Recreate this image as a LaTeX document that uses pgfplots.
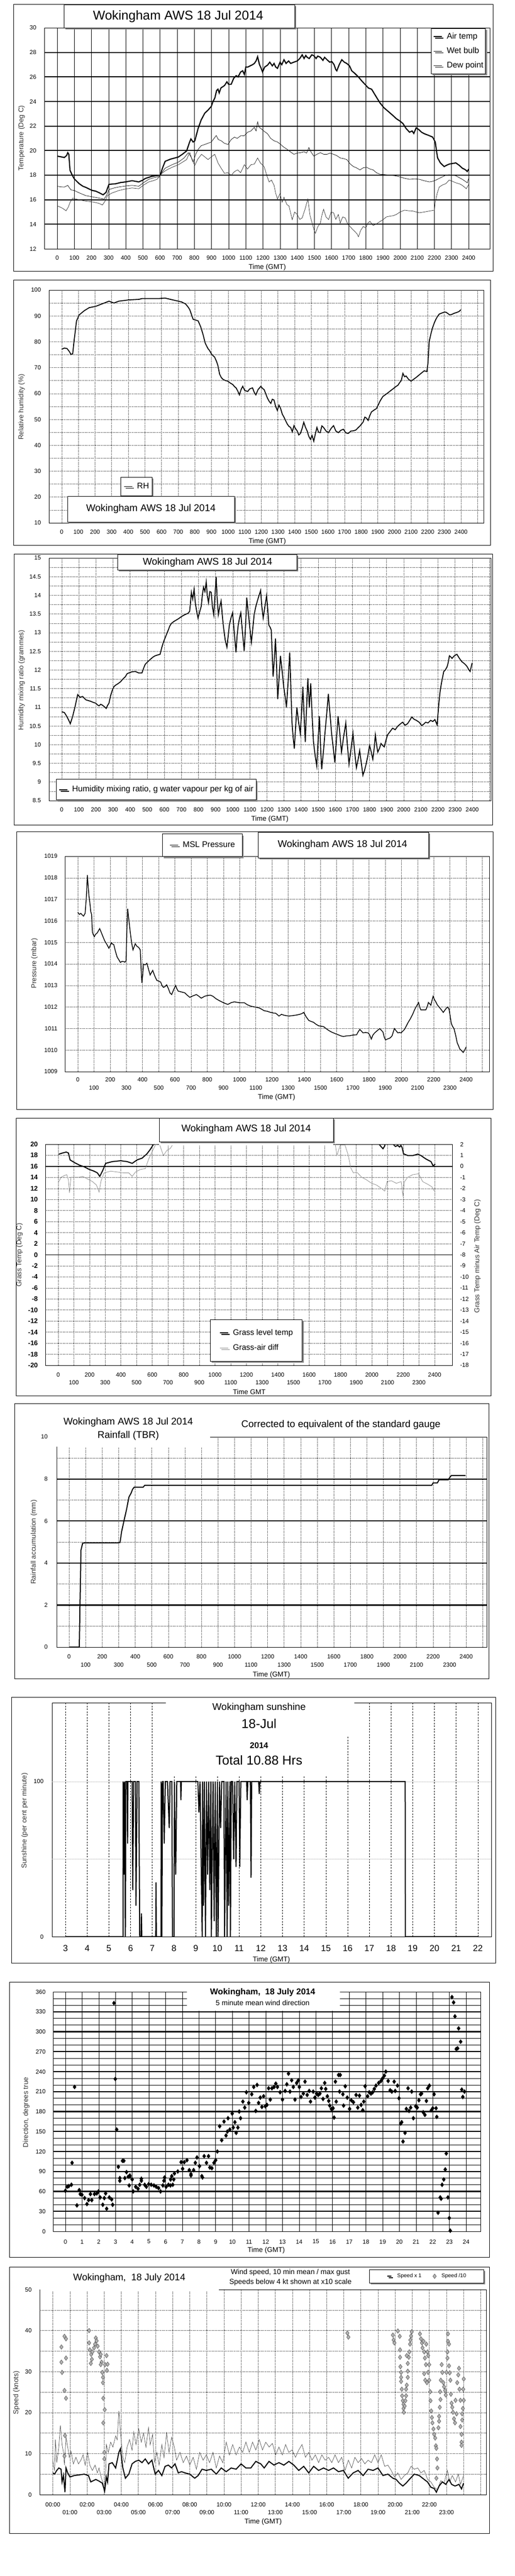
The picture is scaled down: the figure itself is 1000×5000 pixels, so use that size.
\documentclass[border=0pt]{standalone}
\usepackage{fontspec}
\setmainfont{Liberation Sans}
\usepackage{pgfplots}
\pgfplotsset{compat=1.18}
\usetikzlibrary{shadows}
\newcommand{\fz}[1]{\fontsize{#1}{#1}\selectfont}
\newcommand{\frm}[4]{\draw[black,line width=1pt] (#1,-#2) rectangle (#3,-#4);}
\newcommand{\tbox}[4]{\fill[black!50] ({#1+3},{-#2-3}) rectangle ({#3+3},{-#4-3});
  \filldraw[fill=white,draw=black,line width=0.9pt] (#1,-#2) rectangle (#3,-#4);}
\tikzset{
  dots/.style={black,line width=0.6pt,dash pattern=on 0.8pt off 1.6pt},
  lshadow/.style={drop shadow={shadow xshift=3pt,shadow yshift=-3pt,opacity=1,fill=black!45}},
  lgd/.style={draw=black, fill=white, line width=0.8pt, lshadow, font=\fz{16},
    nodes={inner sep=0pt, text height=12pt, text depth=4pt},
    /tikz/every odd column/.append style={column sep=8pt}},
  ylab/.style={rotate=90,font=\fz{13.5},text=black!80},
  xlab/.style={font=\fz{13.5}},
}
\pgfplotsset{
  base/.style={
    scale only axis, anchor=north west,
    axis line style={black,line width=0.8pt},
    major tick length=0pt, minor tick length=0pt,
    tick label style={font=\fz{11.5}},
    /pgf/number format/assume math mode=true,
    /pgf/number format/1000 sep={},
    scaled ticks=false,
    xticklabel style={anchor=center},
    yticklabel style={anchor=east},
    legend cell align=left,
    legend image code/.code={\draw[##1] (0pt,0pt) -- (16pt,0pt);},
  },
  markleg/.style={legend image code/.code={\draw[##1] plot coordinates {(4pt,0pt)};}},
  shortleg/.style={legend image code/.code={\draw[##1] (0pt,0pt) -- (8pt,0pt);}},
}
\begin{document}
\begin{tikzpicture}[x=1pt,y=1pt]
\fill[white] (0,0) rectangle (1000,-5000);

% ---------------- 1 temperature
\frm{26}{8}{957}{526}
\begin{axis}[base, at={(86pt,-54pt)}, width=865pt, height=429pt,
  xmin=-75, xmax=2523, ymin=12, ymax=30,
  xtick={0,100,...,2400}, ytick={12,14,...,30},
  xmajorgrids, major grid style={black,line width=0.6pt},
  extra y ticks={14,16,...,28}, extra y tick labels={},
  extra y tick style={grid=major, major grid style={black,line width=2.2pt}},
  xticklabel style={yshift=-18pt}, yticklabel style={xshift=-12pt},
  legend style={lgd, at={(0.9908,0.9977)}, anchor=north east, row sep=12pt, inner xsep=4pt, inner ysep=8pt},
]
\addplot[black,line width=2.2pt] coordinates {(0,19.55)(20,19.5)(42,19.44)(55,19.6)(62,19.83)(68,19.7)(75,18.4)(88,18.0)(100,17.7)(129,17.3)(150,17.1)(168,17.0)(190,16.85)(206,16.75)(225,16.7)(245,16.57)(268,16.4)(285,16.6)(302,17.25)(341,17.3)(370,17.4)(399,17.45)(437,17.55)(476,17.45)(500,17.6)(514,17.73)(550,17.9)(572,17.95)(601,18.0)(615,18.6)(630,19.13)(660,19.3)(707,19.48)(730,19.7)(755,19.97)(770,20.6)(780,20.95)(793,20.7)(803,20.8)(822,21.8)(840,22.5)(861,23.05)(880,23.3)(899,23.6)(909,24.0)(920,24.3)(930,24.9)(938,25.0)(945,24.7)(955,25.1)(976,25.3)(990,25.6)(1000,25.4)(1015,25.4)(1030,25.9)(1044,26.1)(1055,26.0)(1070,26.4)(1082,26.5)(1092,26.2)(1100,26.8)(1111,26.8)(1125,26.9)(1140,27.0)(1150,27.1)(1160,27.3)(1169,27.65)(1180,27.0)(1190,26.7)(1198,26.4)(1210,26.8)(1227,26.96)(1240,27.2)(1255,26.9)(1265,27.1)(1275,26.8)(1285,26.7)(1300,27.2)(1310,27.0)(1323,27.4)(1335,27.1)(1350,27.3)(1362,27.1)(1380,27.2)(1400,27.3)(1415,27.5)(1429,27.8)(1440,27.5)(1450,27.75)(1458,27.6)(1470,27.5)(1485,27.8)(1497,27.73)(1510,27.5)(1520,27.7)(1535,27.6)(1550,27.35)(1560,27.6)(1574,27.4)(1590,27.2)(1602,27.25)(1615,27.0)(1625,26.6)(1631,26.5)(1645,27.0)(1660,27.4)(1675,27.2)(1689,27.1)(1705,26.9)(1718,26.5)(1735,26.3)(1757,26.0)(1775,25.7)(1795,25.4)(1815,25.1)(1834,25.0)(1860,24.4)(1882,23.9)(1905,23.5)(1930,23.2)(1955,22.9)(1978,22.6)(2000,22.4)(2017,22.2)(2035,21.8)(2055,21.5)(2070,21.6)(2080,21.4)(2094,21.86)(2110,21.7)(2125,21.5)(2142,21.37)(2165,21.25)(2190,21.1)(2205,20.7)(2212,20.0)(2219,19.4)(2235,19.0)(2257,18.7)(2270,18.8)(2286,18.9)(2305,18.95)(2325,19.0)(2345,18.8)(2363,18.57)(2380,18.45)(2392,18.3)(2400,18.5)};
\addlegendentry{Air temp}
\addplot[black,line width=0.7pt] coordinates {(0,17.1)(20,17.05)(42,17.03)(62,17.17)(70,17.0)(81,16.8)(100,16.75)(130,16.55)(168,16.33)(200,16.25)(245,16.13)(274,16.06)(290,16.4)(302,16.83)(330,16.95)(360,17.04)(400,17.12)(437,17.17)(476,17.1)(505,17.4)(534,17.66)(560,17.78)(591,17.87)(610,18.2)(630,18.57)(670,18.85)(707,19.06)(740,19.4)(765,19.83)(780,19.5)(794,19.1)(808,19.7)(822,20.1)(840,20.4)(861,20.5)(880,20.6)(899,20.7)(915,21.0)(928,21.23)(940,20.9)(957,20.8)(975,20.6)(996,20.5)(1015,20.9)(1034,21.1)(1050,21.0)(1073,21.23)(1090,21.2)(1111,21.5)(1130,21.6)(1150,21.9)(1160,21.6)(1169,22.35)(1178,21.9)(1188,21.8)(1205,21.6)(1227,21.37)(1245,21.0)(1265,20.8)(1285,20.7)(1304,20.5)(1320,20.3)(1342,20.1)(1360,19.9)(1381,19.7)(1400,19.8)(1419,19.83)(1440,19.9)(1455,19.8)(1468,20.25)(1480,19.9)(1497,19.55)(1515,19.7)(1535,19.83)(1555,19.7)(1574,19.7)(1592,19.8)(1612,19.7)(1630,19.6)(1651,19.4)(1670,19.35)(1689,19.27)(1710,18.9)(1728,18.7)(1745,18.6)(1766,18.43)(1785,18.6)(1805,18.64)(1825,18.5)(1843,18.43)(1862,18.2)(1882,18.08)(1910,18.05)(1940,18.0)(1970,17.95)(1997,17.87)(2025,17.75)(2055,17.66)(2085,17.7)(2113,17.66)(2140,17.55)(2171,17.45)(2190,17.5)(2209,17.6)(2230,17.75)(2248,17.87)(2267,18.0)(2286,18.04)(2305,18.0)(2325,17.95)(2345,17.8)(2363,17.66)(2380,17.5)(2392,17.38)(2400,17.73)};
\addlegendentry{Wet bulb}
\addplot[black!85,line width=0.7pt] coordinates {(0,15.5)(18,15.4)(33,15.29)(52,15.1)(65,15.4)(75,15.78)(91,16.13)(110,16.05)(129,16.0)(160,15.9)(187,15.85)(215,15.8)(245,15.7)(264,15.57)(280,15.9)(293,16.33)(320,16.55)(360,16.75)(400,16.88)(437,16.96)(476,16.9)(505,17.2)(534,17.45)(560,17.55)(582,17.66)(598,17.9)(611,18.15)(630,18.35)(649,18.5)(680,18.7)(707,18.85)(730,19.05)(755,19.27)(765,19.6)(774,19.83)(788,19.2)(803,18.8)(820,19.3)(842,19.7)(860,19.5)(880,19.27)(900,19.5)(919,19.7)(930,19.3)(938,19.0)(955,18.6)(976,18.15)(995,18.2)(1015,18.0)(1035,18.3)(1053,18.43)(1070,18.2)(1092,18.85)(1110,18.5)(1130,18.85)(1150,18.9)(1169,19.4)(1185,19.0)(1207,18.7)(1222,18.0)(1236,17.45)(1250,17.6)(1265,17.17)(1275,16.5)(1285,16.06)(1300,16.5)(1312,15.8)(1323,16.2)(1340,15.6)(1352,15.5)(1362,14.9)(1371,14.38)(1385,15.0)(1400,14.8)(1415,14.4)(1429,14.52)(1445,15.2)(1462,16.06)(1475,14.7)(1487,14.1)(1497,13.6)(1506,13.26)(1520,13.8)(1535,14.1)(1545,14.8)(1554,15.22)(1568,14.6)(1583,14.38)(1598,15.0)(1612,14.94)(1625,14.4)(1640,14.8)(1651,14.1)(1665,14.6)(1680,14.52)(1695,14.0)(1708,13.82)(1722,13.6)(1737,13.4)(1750,13.2)(1757,12.98)(1770,13.5)(1785,13.82)(1800,13.7)(1812,14.1)(1824,14.24)(1843,13.9)(1862,14.03)(1880,14.2)(1901,14.38)(1920,14.6)(1940,14.66)(1960,14.7)(1978,14.8)(2000,15.0)(2026,15.15)(2050,15.1)(2074,15.08)(2095,15.0)(2113,14.94)(2140,15.0)(2171,15.08)(2200,15.15)(2205,15.78)(2216,16.5)(2228,17.03)(2247,17.2)(2267,17.31)(2286,17.6)(2305,17.5)(2325,17.38)(2345,17.3)(2363,17.17)(2386,16.9)(2400,17.24)};
\addlegendentry{Dew point}
\end{axis}
\tbox{124}{9}{572}{54}
\node[font=\fz{25}] at (346,-32) {Wokingham AWS 18 Jul 2014};
\node[ylab] at (42,-268) {Temperature (Deg C)};
\node[xlab] at (519,-519) {Time (GMT)};

% ---------------- 2 relative humidity
\frm{26}{543}{952}{1058}
\begin{axis}[base, at={(95pt,-563pt)}, width=844pt, height=452pt,
  xmin=-77, xmax=2536, ymin=10, ymax=100,
  xtick={0,100,...,2400}, ytick={10,20,...,100}, minor ytick={15,25,...,95},
  extra x ticks={2500}, extra x tick labels={}, extra x tick style={grid=major},
  grid=both, grid style={dots},
  xticklabel style={yshift=-18pt}, yticklabel style={xshift=-12pt},
  legend style={lgd, at={(0.1647,0.1969)}, anchor=north west, inner xsep=6pt, inner ysep=10pt},
]
\addplot[black,line width=1.8pt] coordinates {(0,77.1)(16,77.6)(32,77.4)(46,76.2)(56,75.1)(66,75.4)(75,80.8)(89,88.1)(105,90.4)(135,92.0)(165,93.2)(204,93.7)(244,94.7)(284,95.7)(314,95.0)(343,95.7)(403,96.2)(463,96.4)(482,96.7)(582,96.7)(621,96.9)(681,96.0)(721,95.4)(745,94.6)(760,93.4)(770,92.4)(780,90.5)(790,88.7)(805,88.4)(820,88.1)(836,85.7)(850,82.7)(863,79.4)(879,77.4)(890,76.5)(899,75.4)(910,74.6)(919,74.1)(930,72.5)(939,70.8)(949,67.5)(959,66.2)(969,65.5)(985,65.0)(998,64.8)(1010,64.2)(1028,63.5)(1040,62.6)(1048,62.2)(1058,61.0)(1068,59.5)(1078,61.5)(1088,62.8)(1100,61.2)(1118,60.8)(1130,61.8)(1147,62.2)(1157,60.5)(1167,59.5)(1180,61.5)(1197,62.8)(1207,62.0)(1217,61.5)(1227,59.8)(1237,58.2)(1247,57.0)(1257,56.2)(1266,57.8)(1276,57.5)(1286,55.0)(1296,53.5)(1306,55.5)(1316,54.2)(1326,52.0)(1336,50.9)(1346,49.5)(1356,48.2)(1366,47.3)(1376,46.9)(1386,45.2)(1396,47.6)(1405,46.5)(1415,45.6)(1425,44.0)(1435,44.6)(1445,46.5)(1455,48.9)(1465,47.0)(1475,45.6)(1485,43.5)(1495,42.3)(1505,43.8)(1515,41.6)(1525,44.5)(1534,46.9)(1544,45.0)(1554,44.9)(1564,47.5)(1574,46.9)(1589,45.5)(1604,44.9)(1619,46.5)(1634,47.6)(1648,45.5)(1663,44.9)(1678,45.8)(1693,46.2)(1708,44.8)(1723,44.6)(1738,45.5)(1753,45.6)(1768,45.9)(1783,46.9)(1793,47.5)(1802,48.2)(1812,49.0)(1822,50.9)(1832,50.5)(1842,49.6)(1852,51.5)(1862,52.9)(1877,53.6)(1892,54.2)(1902,55.5)(1912,56.9)(1922,58.0)(1931,58.9)(1951,59.8)(1971,60.8)(1991,61.8)(2011,62.8)(2021,63.2)(2031,64.2)(2041,65.0)(2051,67.8)(2061,66.5)(2070,66.8)(2085,65.5)(2100,64.8)(2115,65.5)(2130,66.2)(2145,67.0)(2160,67.8)(2179,68.8)(2195,68.5)(2202,72.0)(2209,80.1)(2219,83.0)(2229,85.4)(2239,87.2)(2249,88.7)(2259,89.8)(2269,90.7)(2284,91.1)(2298,91.4)(2308,91.5)(2320,91.0)(2332,90.4)(2345,90.6)(2358,91.0)(2373,91.3)(2388,91.7)(2400,92.4)};
\addlegendentry{RH}
\end{axis}
\tbox{131}{963}{455}{1013}
\node[font=\fz{19}] at (293,-988) {Wokingham AWS 18 Jul 2014};
\node[ylab] at (42,-790) {Relative humidity (\%)};
\node[xlab] at (519,-1051) {Time (GMT)};

% ---------------- 3 mixing ratio
\frm{27}{1075}{956}{1601}
\begin{axis}[base, at={(95pt,-1083pt)}, width=858pt, height=471pt,
  xmin=-75, xmax=2509, ymin=8.5, ymax=15,
  xtick={0,100,...,2400}, ytick={8.5,9,...,15}, minor ytick={8.75,9.25,...,14.75},
  extra x ticks={2500}, extra x tick labels={}, extra x tick style={grid=major},
  grid=both, grid style={dots},
  xticklabel style={yshift=-18pt}, yticklabel style={xshift=-12pt},
  legend style={lgd, at={(0.0163,0.002)}, anchor=south west, inner xsep=5pt, inner ysep=12pt},
]
\addplot[black,line width=1.8pt] coordinates {(0,10.88)(15,10.86)(25,10.79)(39,10.67)(50,10.56)(64,10.76)(79,11.04)(93,11.34)(106,11.27)(122,11.29)(141,11.2)(155,11.18)(170,11.16)(185,11.13)(199,11.11)(210,11.06)(218,11.04)(228,11.08)(237,11.06)(248,11.02)(260,10.97)(268,11.05)(276,11.11)(285,11.3)(295,11.45)(305,11.55)(314,11.59)(328,11.63)(343,11.68)(358,11.76)(372,11.82)(382,11.9)(392,11.92)(410,11.95)(430,11.96)(450,11.92)(469,11.92)(479,12.05)(488,12.15)(503,12.22)(517,12.28)(532,12.34)(546,12.38)(560,12.4)(575,12.42)(585,12.6)(594,12.74)(608,12.9)(623,13.07)(632,13.18)(642,13.25)(656,13.3)(671,13.34)(685,13.38)(700,13.43)(715,13.47)(729,13.5)(739,13.52)(748,13.57)(753,13.8)(758,14.08)(766,13.9)(774,14.17)(781,13.8)(789,13.57)(797,13.39)(806,13.55)(816,13.71)(822,14.0)(829,14.22)(837,14.1)(845,14.36)(851,14.0)(858,13.8)(866,14.1)(874,14.08)(881,13.7)(889,13.48)(896,14.0)(903,14.49)(909,13.9)(916,13.48)(924,13.7)(932,13.85)(940,13.4)(947,13.11)(956,12.8)(966,12.61)(973,12.9)(980,13.2)(990,13.4)(999,13.53)(1009,13.0)(1019,12.47)(1025,12.9)(1032,13.2)(1040,13.4)(1047,13.53)(1057,13.0)(1067,12.51)(1075,13.2)(1082,13.94)(1089,13.6)(1096,13.3)(1103,13.0)(1109,12.74)(1117,13.1)(1125,13.48)(1135,13.7)(1144,13.85)(1154,14.0)(1163,14.13)(1170,13.7)(1178,13.39)(1188,13.7)(1198,13.99)(1205,13.6)(1211,13.2)(1218,13.15)(1225,13.07)(1231,12.4)(1236,11.82)(1243,12.3)(1250,12.84)(1257,12.0)(1263,11.22)(1271,11.8)(1279,12.38)(1288,12.0)(1298,11.55)(1306,11.3)(1314,11.0)(1324,11.7)(1333,12.47)(1340,11.5)(1346,10.63)(1353,10.2)(1360,9.89)(1368,10.5)(1375,11.0)(1385,10.6)(1395,10.3)(1403,10.9)(1410,11.55)(1417,10.8)(1424,10.07)(1431,10.9)(1439,11.78)(1448,11.0)(1456,11.64)(1464,10.8)(1472,10.07)(1482,9.7)(1491,9.43)(1499,10.1)(1507,10.76)(1513,10.0)(1520,9.34)(1530,9.8)(1539,10.3)(1549,10.8)(1559,11.36)(1569,10.8)(1578,10.3)(1588,9.9)(1597,9.52)(1606,10.1)(1616,10.76)(1626,10.3)(1636,9.8)(1648,10.2)(1661,10.58)(1670,10.0)(1680,9.48)(1692,9.9)(1703,10.3)(1713,9.8)(1723,9.38)(1733,9.6)(1742,9.84)(1752,9.5)(1761,9.18)(1770,9.3)(1780,9.48)(1790,9.7)(1800,9.98)(1810,9.8)(1819,9.61)(1827,9.9)(1834,10.26)(1841,10.0)(1848,9.8)(1858,9.9)(1867,10.03)(1876,9.98)(1886,9.94)(1895,10.1)(1905,10.26)(1920,10.35)(1935,10.44)(1950,10.4)(1964,10.49)(1979,10.55)(1993,10.6)(2008,10.52)(2022,10.56)(2035,10.65)(2047,10.74)(2060,10.68)(2074,10.65)(2090,10.6)(2105,10.51)(2117,10.55)(2128,10.6)(2142,10.58)(2157,10.65)(2170,10.62)(2182,10.67)(2195,10.53)(2205,11.09)(2212,11.4)(2220,11.64)(2227,11.8)(2234,11.96)(2243,12.0)(2253,12.08)(2260,12.2)(2267,12.38)(2275,12.35)(2282,12.31)(2296,12.38)(2311,12.42)(2320,12.35)(2330,12.28)(2340,12.22)(2349,12.19)(2359,12.15)(2369,12.1)(2379,12.02)(2388,11.96)(2400,12.19)};
\addlegendentry{Humidity mixing ratio, g water vapour per kg of air}
\end{axis}
\tbox{228}{1076}{576}{1106}
\node[font=\fz{19}] at (403,-1092) {Wokingham AWS 18 Jul 2014};
\node[ylab] at (42,-1320) {Humidity mixing ratio (grammes)};
\node[xlab] at (524,-1590) {Time (GMT)};

% ---------------- 4 pressure
\frm{32}{1614}{957}{2153}
\begin{axis}[base, at={(126pt,-1662pt)}, width=824pt, height=418pt,
  xmin=-80, xmax=2543, ymin=1009, ymax=1019,
  xtick={0,200,...,2400}, ytick={1009,1010,...,1019},
  extra x ticks={100,300,...,2300,2500},
  extra x tick labels={100,300,500,700,900,1100,1300,1500,1700,1900,2100,2300,},
  extra x tick style={grid=major, xticklabel style={yshift=-16pt}},
  grid=major, grid style={dots},
  xticklabel style={yshift=-16pt}, yticklabel style={xshift=-11pt},
  legend style={lgd, at={(0.2294,0.9976)}, anchor=south west, inner xsep=14pt, inner ysep=14pt},
]
\addplot[black,line width=1.5pt] coordinates {(0,1016.39)(10,1016.3)(18,1016.35)(27,1016.28)(35,1016.22)(45,1016.35)(53,1017.14)(59,1018.13)(64,1017.6)(69,1017.14)(75,1016.8)(80,1016.43)(85,1016.3)(90,1015.48)(96,1015.35)(102,1015.27)(110,1015.38)(120,1015.44)(128,1015.55)(135,1015.64)(143,1015.5)(151,1015.35)(159,1015.2)(167,1015.06)(180,1014.9)(192,1014.73)(200,1014.85)(208,1014.98)(215,1014.92)(222,1014.9)(232,1014.6)(243,1014.32)(253,1014.2)(263,1014.07)(273,1014.12)(284,1014.11)(291,1014.08)(298,1014.15)(303,1015.5)(308,1016.56)(316,1016.0)(324,1015.48)(332,1015.0)(341,1014.65)(348,1014.8)(355,1014.94)(365,1014.82)(376,1014.77)(386,1014.65)(391,1013.8)(396,1013.12)(401,1013.5)(406,1013.99)(416,1013.96)(427,1014.03)(437,1013.75)(447,1013.49)(455,1013.6)(463,1013.7)(475,1013.45)(488,1013.24)(500,1013.2)(512,1013.16)(520,1013.0)(529,1012.91)(539,1012.95)(549,1013.03)(560,1012.85)(570,1012.65)(580,1012.58)(592,1012.8)(604,1013.0)(612,1012.85)(620,1012.74)(640,1012.7)(661,1012.66)(676,1012.55)(692,1012.45)(712,1012.52)(733,1012.58)(748,1012.5)(763,1012.41)(784,1012.5)(804,1012.54)(820,1012.55)(835,1012.5)(855,1012.38)(876,1012.29)(900,1012.2)(927,1012.12)(947,1012.2)(967,1012.24)(998,1012.2)(1029,1012.2)(1049,1012.1)(1069,1012.04)(1095,1012.0)(1120,1011.96)(1136,1011.9)(1151,1011.83)(1172,1011.8)(1192,1011.75)(1208,1011.72)(1223,1011.71)(1233,1011.65)(1243,1011.58)(1259,1011.66)(1274,1011.62)(1289,1011.6)(1304,1011.58)(1325,1011.6)(1345,1011.62)(1360,1011.64)(1376,1011.67)(1386,1011.7)(1396,1011.75)(1411,1011.55)(1427,1011.38)(1442,1011.33)(1457,1011.29)(1472,1011.2)(1488,1011.13)(1503,1011.11)(1519,1011.09)(1534,1011.0)(1549,1010.92)(1565,1010.85)(1580,1010.8)(1595,1010.75)(1610,1010.71)(1626,1010.66)(1641,1010.63)(1661,1010.66)(1682,1010.67)(1702,1010.7)(1723,1010.71)(1733,1010.85)(1743,1010.96)(1753,1010.88)(1763,1010.8)(1778,1010.82)(1794,1010.8)(1804,1010.7)(1814,1010.51)(1824,1010.7)(1835,1010.8)(1850,1010.9)(1866,1011.0)(1876,1010.92)(1886,1010.84)(1894,1010.6)(1902,1010.47)(1915,1010.52)(1927,1010.55)(1935,1010.6)(1943,1010.67)(1950,1010.85)(1957,1011.0)(1967,1010.9)(1978,1010.8)(1988,1010.82)(1998,1010.8)(2009,1010.88)(2019,1010.96)(2029,1011.1)(2039,1011.25)(2055,1011.45)(2070,1011.67)(2080,1011.85)(2090,1012.0)(2098,1012.1)(2106,1012.21)(2113,1012.0)(2120,1011.87)(2135,1011.87)(2151,1011.87)(2159,1012.0)(2167,1012.21)(2175,1012.15)(2182,1012.08)(2189,1012.3)(2196,1012.5)(2204,1012.35)(2212,1012.25)(2222,1012.1)(2233,1012.0)(2246,1011.88)(2259,1011.75)(2271,1011.88)(2284,1012.0)(2294,1011.92)(2301,1011.6)(2308,1011.25)(2316,1011.1)(2325,1011.0)(2335,1010.7)(2345,1010.34)(2353,1010.2)(2361,1010.05)(2371,1009.98)(2382,1009.89)(2391,1010.0)(2400,1010.14)};
\addlegendentry{MSL Pressure}
\end{axis}
\tbox{501}{1615}{832}{1665}
\node[font=\fz{19}] at (665,-1640) {Wokingham AWS 18 Jul 2014};
\node[ylab] at (67,-1870) {Pressure (mbar)};
\node[xlab] at (537,-2130) {Time (GMT)};

% ---------------- 5 grass temperature
\frm{31}{2170}{953}{2709}
\begin{axis}[base, at={(88pt,-2221pt)}, width=790pt, height=429pt,
  xmin=-82, xmax=2512, ymin=-20, ymax=20,
  xtick={0,200,...,2400}, ytick={-20,-18,...,20},
  yticklabels={-20,-18,-16,-14,-12,-10,-8,-6,-4,-2,0,2,4,6,8,10,12,14,16,18,20},
  extra x ticks={100,300,...,2300},
  extra x tick style={grid=major, xticklabel style={yshift=-15pt}},
  grid=major, grid style={dots},
  xticklabel style={yshift=-19pt}, yticklabel style={xshift=-11pt, font=\fz{13}\bfseries},
]
\addplot[black,line width=2pt] coordinates {(4,18.2)(29,18.43)(51,18.59)(65,18.43)(76,17.17)(103,16.7)(135,16.23)(166,15.92)(198,15.45)(229,15.13)(250,14.82)(265,14.19)(282,15.13)(303,16.55)(345,16.86)(398,17.02)(440,16.86)(472,16.55)(503,17.17)(535,17.49)(566,18.27)(587,19.06)(608,20)(640,20.8)(700,22)(800,25)(900,28)(1000,30)(1200,33)(1400,34)(1600,32)(1800,28)(1950,23)(2030,20.5)(2046,20)(2061,19.5)(2071,19.2)(2080,19.6)(2088,20.3)(2120,20.5)(2140,19.9)(2150,19.6)(2165,19.8)(2177,19.5)(2185,19.8)(2193,19.4)(2202,18.27)(2229,17.96)(2261,17.96)(2292,18.21)(2313,17.96)(2345,17.33)(2377,16.86)(2391,16.08)(2404,16.4)};
\end{axis}
\begin{axis}[base, at={(88pt,-2221pt)}, width=790pt, height=429pt,
  xmin=-82, xmax=2512, ymin=-18, ymax=2,
  axis x line=none, axis y line*=right,
  ytick={-18,-17,...,2},
  yticklabels={-18,-17,-16,-15,-14,-13,-12,-11,-10,-9,-8,-7,-6,-5,-4,-3,-2,-1,0,1,2},
  extra y ticks={0,-8}, extra y tick labels={},
  extra y tick style={grid=major, major grid style={black,line width=1.6pt}},
  yticklabel style={anchor=west, xshift=12pt},
  legend style={lgd, font=\fz{15.5}, at={(0.405,0.2075)}, anchor=north west, row sep=13pt, inner xsep=18pt, inner ysep=18pt},
]
\addlegendimage{black,line width=2pt}
\addlegendentry{Grass level temp}
\addplot[black!45,line width=0.8pt] coordinates {(4,-1.38)(19,-0.98)(40,-0.83)(55,-0.75)(65,-1.22)(72,-2.4)(82,-0.98)(103,-0.98)(135,-0.98)(156,-0.9)(187,-1.14)(219,-1.38)(244,-1.69)(261,-2.32)(272,-1.38)(292,-0.59)(335,-0.43)(377,-0.51)(419,-0.59)(450,-0.59)(472,-0.9)(493,-0.51)(524,-0.28)(556,-0.2)(577,0.67)(598,1.29)(619,1.92)(640,2.24)(671,0.98)(693,1.45)(714,1.61)(735,2.08)(800,3)(1000,4)(1300,4)(1550,3)(1740,2.3)(1766,2.08)(1777,0.98)(1798,1.92)(1829,1.92)(1850,0.98)(1865,-0.12)(1882,-0.59)(1903,-0.51)(1935,-0.98)(1966,-1.22)(1998,-1.53)(2030,-1.69)(2061,-2.0)(2082,-2.24)(2097,-1.38)(2124,-1.3)(2156,-1.53)(2187,-1.38)(2198,-2.63)(2208,-1.38)(2229,-0.98)(2261,-0.75)(2298,-0.67)(2324,-1.38)(2355,-1.61)(2383,-1.85)(2398,-2.24)};
\addlegendentry{Grass-air diff}
\end{axis}
\fill[white] (309,-2219) rectangle (647,-2223);
\tbox{309}{2170}{647}{2216}
\node[font=\fz{19}] at (478,-2192) {Wokingham AWS 18 Jul 2014};
\node[ylab] at (38,-2436) {Grass Temp (Deg C)};
\node[ylab] at (927,-2438) {Grass Temp minus Air Temp (Deg C)};
\node[xlab] at (484,-2702) {Time GMT};

% ---------------- 6 rainfall
\frm{28}{2724}{949}{3258}
\begin{axis}[base, at={(110pt,-2789pt)}, width=835pt, height=408pt,
  xmin=-75, xmax=2524, ymin=0, ymax=10,
  xtick={0,200,...,2400},
  extra x ticks={100,300,...,2300},
  extra x tick style={grid=none, xticklabel style={yshift=-16pt}},
  minor xtick={0,100,...,2500}, xminorgrids,
  ytick={2,4,6,8}, ymajorgrids, minor ytick={1,3,...,9}, yminorgrids,
  extra y ticks={0,10}, extra y tick style={grid=none},
  major grid style={black,line width=2.2pt}, minor grid style={dots},
  xticklabel style={yshift=-19pt}, yticklabel style={xshift=-14pt},
]
\addplot[black,line width=2pt] coordinates {(0,0)(62,0)(66,2.0)(72,4.61)(82,4.94)(94,4.96)(298,4.96)(308,4.98)(318,5.51)(334,6.08)(348,6.57)(362,7.14)(374,7.31)(384,7.51)(394,7.61)(448,7.61)(458,7.7)(2192,7.7)(2200,7.81)(2226,7.81)(2236,7.96)(2292,7.96)(2300,8.06)(2310,8.16)(2396,8.16)};
\end{axis}
\fill[white] (92,-2745) rectangle (408,-2808);
\node[font=\fz{19}] at (249,-2761) {Wokingham AWS 18 Jul 2014};
\node[font=\fz{19}] at (249,-2787) {Rainfall (TBR)};
\node[font=\fz{19}] at (662,-2766) {Corrected to equivalent of the standard gauge};
\node[ylab] at (66,-2993) {Rainfall accumulation (mm)};
\node[xlab] at (527,-3251) {Time (GMT)};

% ---------------- 7 sunshine
\frm{22}{3294}{962}{3810}
\begin{axis}[base, at={(101pt,-3305pt)}, width=853pt, height=454pt,
  xmin=2.38, xmax=22.62, ymin=0, ymax=150.8,
  xtick={3,4,...,22}, ytick={0,100},
  xmajorgrids, major grid style={black,line width=0.6pt,dash pattern=on 3pt off 2.5pt},
  extra y ticks={50,100}, extra y tick labels={},
  extra y tick style={grid=major, major grid style={black!35,line width=0.6pt,dash pattern=on 1pt off 1pt}},
  xticklabel style={yshift=-23pt, font=\fz{17}}, yticklabel style={xshift=-13pt},
]
\addplot[black,line width=2pt] coordinates {(3,0)(5.65,0)(5.66,100)(5.7,40)(5.72,100)(5.76,0)(5.78,100)(5.84,100)(5.86,60)(5.88,100)(6.07,100)(6.1,30)(6.14,100)(6.22,100)(6.25,20)(6.3,100)(6.38,100)(6.42,0)(6.48,0)(6.5,15)(6.52,0)(7.16,0)(7.17,35)(7.19,0)(7.4,0)(7.41,100)(7.44,0)(7.47,100)(7.5,100)(7.55,60)(7.6,100)(7.7,100)(7.78,70)(7.82,100)(7.9,100)(7.93,0)(8.0,0)(8.02,100)(8.08,40)(8.13,100)(8.3,100)(8.32,88)(8.34,100)(9.1,100)(9.15,80)(9.2,100)(9.3,0)(9.32,100)(9.36,20)(9.4,100)(9.45,0)(9.5,100)(9.55,40)(9.6,100)(9.65,30)(9.7,100)(9.72,0)(9.8,100)(9.85,10)(9.9,100)(9.95,0)(10.0,100)(10.03,0)(10.1,100)(10.15,70)(10.2,100)(10.3,100)(10.33,0)(10.4,100)(10.45,0)(10.48,100)(10.52,20)(10.58,100)(10.6,0)(10.64,100)(10.7,100)(10.75,50)(10.8,100)(10.86,45)(10.9,100)(11.0,100)(11.03,45)(11.08,100)(11.35,100)(11.37,88)(11.4,100)(11.52,100)(11.55,38)(11.58,100)(11.9,100)(11.93,92)(11.96,100)(18.65,100)(18.66,0)(22,0)};
\end{axis}
\fill[white] (322,-3303) rectangle (688,-3370);
\fill[white] (338,-3370) rectangle (674,-3447);
\node[font=\fz{19}] at (503,-3315) {Wokingham sunshine};
\node[font=\fz{25}] at (503,-3346) {18-Jul};
\node[font=\fz{16}\bfseries] at (503,-3388) {2014};
\node[font=\fz{25}] at (503,-3417) {Total 10.88 Hrs};
\node[ylab] at (48,-3534) {Sunshine (per cent per minute)};
\node[xlab] at (527,-3804) {Time (GMT)};

% ---------------- 8 wind direction
\frm{18}{3847}{950}{4381}
\begin{axis}[base, at={(103pt,-3866pt)}, width=830pt, height=465pt,
  xmin=-0.74, xmax=24.86, ymin=0, ymax=360,
  xtick={0,1,...,24}, minor xtick={0,1,...,24}, xminorgrids,
  ytick={30,60,...,330}, ymajorgrids, minor ytick={10,20,...,350}, yminorgrids,
  extra y ticks={0,360}, extra y tick style={grid=none},
  major grid style={black,line width=2.2pt}, minor grid style={black,line width=0.6pt},
  xticklabel style={yshift=-20pt}, yticklabel style={xshift=-11pt},
]
\addplot[only marks, mark=diamond*, mark size=4.3pt, black] coordinates {(0.4,103)(0.55,217)(2.91,343)(2.99,229)(3.07,153)(3.17,97)(3.42,106)(3.5,106)(3.66,89)(3.26,76)(3.86,84)(3.76,82)(4.55,79)(5.9,76)(6.3,78)(6.53,87)(6.73,90)(6.93,104)(7.02,94)(7.12,104)(7.28,107)(7.42,92)(7.52,86)(7.68,92)(7.78,103)(7.88,111)(8.03,98)(8.17,83)(8.31,113)(8.45,103)(8.57,113)(8.65,96)(8.77,95)(8.9,103)(9.0,107)(9.1,120)(9.24,158)(9.36,137)(9.5,165)(9.62,144)(9.74,170)(9.7,150)(9.85,153)(9.99,177)(10.05,156)(10.15,164)(10.23,148)(10.33,156)(10.41,180)(10.49,170)(10.63,195)(10.74,186)(10.84,209)(10.98,193)(11.16,206)(11.28,217)(11.48,220)(11.4,181)(11.57,193)(11.67,201)(11.77,187)(11.87,203)(11.97,188)(12.07,190)(12.17,215)(12.27,198)(12.37,215)(12.5,217)(12.6,222)(12.7,217)(12.86,209)(13.0,198)(13.16,211)(13.26,221)(13.36,237)(13.45,210)(13.55,227)(13.65,217)(13.75,198)(13.85,223)(13.95,227)(14.01,217)(14.11,202)(14.25,207)(14.35,225)(14.48,205)(14.6,211)(14.68,195)(14.84,210)(14.94,201)(15.04,207)(15.14,205)(15.24,207)(15.33,215)(15.43,199)(15.53,223)(15.59,214)(15.69,203)(15.77,196)(15.83,189)(15.93,184)(16.03,185)(16.09,171)(16.17,225)(16.22,195)(16.36,235)(16.46,235)(16.42,210)(16.62,206)(16.76,218)(16.66,189)(16.88,201)(17.02,184)(17.12,197)(17.25,194)(17.41,205)(17.51,186)(17.61,204)(17.71,190)(17.81,182)(17.87,195)(17.95,218)(18.1,203)(18.2,209)(18.3,207)(18.4,209)(18.5,214)(18.6,219)(18.76,223)(18.9,226)(19.0,230)(19.1,234)(19.19,240)(19.33,226)(19.45,212)(19.55,210)(19.69,225)(19.75,211)(19.89,219)(19.98,200)(20.08,162)(20.14,164)(20.22,135)(20.34,148)(20.42,184)(20.52,215)(20.58,181)(20.68,186)(20.74,210)(20.84,170)(20.98,188)(21.07,186)(21.17,197)(21.27,206)(21.33,207)(21.43,179)(21.53,175)(21.62,196)(21.7,215)(21.8,219)(21.92,182)(22.0,185)(22.08,206)(22.2,185)(22.24,172)(23.15,352)(23.25,344)(23.33,323)(23.55,305)(23.67,285)(23.41,274)(23.49,275)(23.74,213)(23.9,210)(23.8,202)(22.81,117)(22.75,93)(0,61)(0.1,67)(0.2,68)(0.36,70)(0.69,39)(0.83,62)(0.89,56)(0.99,55)(1.15,50)(1.29,41)(1.39,47)(1.5,56)(1.58,47)(1.74,56)(1.88,57)(1.98,60)(2.08,51)(2.24,40)(2.33,50)(2.41,57)(2.47,34)(2.63,51)(2.77,48)(2.83,40)(3.26,80)(3.56,80)(3.86,82)(4.0,78)(3.82,69)(4.06,60)(4.21,67)(4.35,64)(4.45,70)(4.55,76)(4.75,70)(4.85,67)(4.99,71)(5.14,70)(5.3,69)(5.44,67)(5.58,65)(5.7,60)(5.84,69)(5.94,81)(6.03,67)(6.17,70)(6.29,69)(6.43,70)(6.49,78)(6.37,83)(7.52,84)(8.21,81)(22.32,28)(22.45,51)(22.5,49)(22.56,70)(22.66,78)(22.91,51)(22.99,20)(23.05,1)};
\end{axis}
\fill[white] (363,-3864) rectangle (660,-3903);
\node[font=\fz{16.5}\bfseries] at (510,-3867) {Wokingham,~ 18 July 2014};
\node[font=\fz{14}] at (510,-3887) {5 minute mean wind direction};
\node[ylab] at (51,-4100) {Direction, degrees true};
\node[xlab] at (517,-4368) {Time (GMT)};

% ---------------- 9 wind speed
\frm{18}{4400}{950}{4917}
\begin{axis}[base, at={(77pt,-4444pt)}, width=867pt, height=398pt,
  xmin=-0.77, xmax=25.32, ymin=0, ymax=50,
  xtick={0,2,...,22},
  xticklabels={00:00,02:00,04:00,06:00,08:00,10:00,12:00,14:00,16:00,18:00,20:00,22:00},
  extra x ticks={1,3,...,23},
  extra x tick labels={01:00,03:00,05:00,07:00,09:00,11:00,13:00,15:00,17:00,19:00,21:00,23:00},
  extra x tick style={grid=none, xticklabel style={yshift=-15pt}},
  minor xtick={0,1,...,25}, xminorgrids,
  ytick={0,10,...,50}, minor ytick={5,15,...,45}, ymajorgrids, yminorgrids,
  grid style={dots},
  xticklabel style={yshift=-19pt}, yticklabel style={xshift=-12pt},
  legend columns=2,
  legend style={lgd, font=\fz{10.5}, nodes={inner sep=0pt, text height=8pt, text depth=2.5pt},
    at={(0.738,1.098)}, anchor=north west, inner xsep=34pt, inner ysep=7.5pt,
    /tikz/every odd column/.append style={column sep=10pt},
    /tikz/every even column/.append style={column sep=22pt}},
]
\addplot[black!70,line width=0.7pt,forget plot] coordinates {(0,8.2)(0.1,5.9)(0.15,13.4)(0.23,7.8)(0.35,11.6)(0.44,16.9)(0.54,12.2)(0.62,10.3)(0.68,7.2)(0.77,14.0)(0.87,11.6)(0.96,9.1)(1.06,10.6)(1.2,7.5)(1.35,9.1)(1.5,7.5)(1.64,8.4)(1.77,9.7)(1.89,7.2)(2.03,10.3)(2.16,7.2)(2.31,5.9)(2.47,7.2)(2.6,5.3)(2.7,6.5)(2.8,4.65)(2.93,2.8)(3.0,0.6)(3.09,5.9)(3.13,12.2)(3.24,10.3)(3.38,12.8)(3.51,11.6)(3.67,14.3)(3.76,13.4)(3.86,20.4)(3.95,15.3)(4.09,9.1)(4.2,7.8)(4.34,11.6)(4.48,13.4)(4.63,10.9)(4.73,15.3)(4.86,12.2)(5.02,16.0)(5.17,12.8)(5.3,15.0)(5.44,11.6)(5.59,16.3)(5.69,12.2)(5.83,14.7)(5.94,7.8)(6.08,10.3)(6.21,7.2)(6.37,12.2)(6.5,9.1)(6.65,15.0)(6.79,10.3)(6.94,14.0)(7.1,11.6)(7.23,8.4)(7.43,10.3)(7.62,7.8)(7.81,9.4)(8.0,7.2)(8.2,9.1)(8.39,6.2)(8.58,10.3)(8.78,8.4)(8.97,9.7)(9.16,7.8)(9.36,10.3)(9.55,6.5)(9.74,9.4)(9.93,7.8)(10.13,12.8)(10.32,9.7)(10.51,12.2)(10.71,9.7)(10.9,11.6)(11.09,10.3)(11.28,12.8)(11.48,10.3)(11.67,12.8)(11.86,10.9)(12.06,13.4)(12.25,10.9)(12.44,12.8)(12.64,11.6)(12.83,12.5)(13.02,9.7)(13.21,11.6)(13.41,9.7)(13.6,12.2)(13.79,10.3)(13.98,10.9)(14.18,9.1)(14.37,10.9)(14.56,12.2)(14.76,9.1)(14.95,10.3)(15.14,8.4)(15.34,9.7)(15.53,7.8)(15.72,9.7)(15.91,8.4)(16.11,9.1)(16.3,7.8)(16.49,9.7)(16.69,7.8)(16.88,9.1)(17.07,5.9)(17.27,8.4)(17.46,6.5)(17.65,9.1)(17.84,7.8)(18.04,8.8)(18.23,7.5)(18.42,8.4)(18.61,7.8)(18.81,9.7)(19.0,7.8)(19.19,9.7)(19.39,6.9)(19.58,7.2)(19.77,5.9)(19.97,4.3)(20.16,5.3)(20.35,3.7)(20.54,4.65)(20.74,5.3)(20.93,6.9)(21.12,6.2)(21.32,6.5)(21.51,5.3)(21.7,5.9)(21.9,3.7)(22.09,3.1)(22.28,1.8)(22.47,1.2)(22.67,3.4)(22.86,2.8)(23.05,5.9)(23.19,3.1)(23.34,4.65)(23.53,3.1)(23.69,5.0)(23.82,2.5)(24.0,4.65)};
\addplot[black,line width=2pt,shortleg] coordinates {(0,5.3)(0.1,5.0)(0.23,5.9)(0.35,6.5)(0.48,6.2)(0.54,3.1)(0.62,4.7)(0.71,0.6)(0.77,6.5)(0.87,5.3)(1.0,4.3)(1.25,4.65)(1.54,4.8)(1.83,5.0)(2.08,4.65)(2.22,3.1)(2.51,3.7)(2.7,3.3)(2.89,2.8)(3.03,0.9)(3.13,4.3)(3.2,3.1)(3.28,7.5)(3.47,7.8)(3.67,6.5)(3.86,10.3)(3.95,11.2)(4.09,6.5)(4.24,4.0)(4.44,5.0)(4.63,7.5)(4.82,8.1)(5.02,8.4)(5.21,7.8)(5.4,8.7)(5.59,7.5)(5.79,8.4)(5.98,5.0)(6.17,5.9)(6.37,4.65)(6.56,6.9)(6.75,7.2)(6.94,6.5)(7.14,7.5)(7.33,5.3)(7.52,5.6)(7.72,5.3)(8.0,5.0)(8.29,4.0)(8.49,4.65)(8.72,6.2)(8.97,5.9)(9.26,6.2)(9.55,5.0)(9.84,6.5)(10.13,5.6)(10.42,6.5)(10.71,6.2)(11.0,7.5)(11.28,6.5)(11.57,6.5)(11.86,8.1)(12.15,7.5)(12.35,6.5)(12.63,8.1)(12.92,7.2)(13.21,7.8)(13.5,7.2)(13.79,8.1)(14.08,7.2)(14.37,5.9)(14.66,6.9)(14.95,5.3)(15.24,6.9)(15.53,5.9)(15.82,6.5)(16.11,5.9)(16.4,6.5)(16.69,5.6)(16.98,5.9)(17.26,4.0)(17.55,5.3)(17.84,5.9)(18.13,4.65)(18.42,6.2)(18.71,5.9)(19.0,6.5)(19.29,4.65)(19.58,5.0)(19.87,4.0)(20.06,3.7)(20.25,2.8)(20.45,2.1)(20.64,2.8)(20.83,3.7)(21.12,5.0)(21.41,4.65)(21.7,3.7)(21.89,3.1)(22.09,1.8)(22.28,1.5)(22.41,0.6)(22.57,2.1)(22.76,3.1)(22.96,2.5)(23.15,3.7)(23.3,2.5)(23.5,2.1)(23.73,2.5)(23.88,1.4)(24.0,2.8)};
\addlegendentry{Speed x 1}
\addplot[only marks, mark=diamond*, mark size=4.5pt, draw=black!75, fill=black!30, line width=0.5pt, markleg] coordinates {(0.5,36.0)(0.5,32.3)(0.54,29.8)(0.68,38.6)(0.77,38.0)(0.77,33.3)(0.68,25.4)(0.77,23.5)(0.71,14.4)(0.68,9.4)(2.12,40.0)(2.12,37.0)(2.16,35.3)(2.24,34.2)(2.28,33.0)(2.22,32.0)(2.31,34.8)(2.41,35.8)(2.47,36.7)(2.51,38.2)(2.56,37.5)(2.62,36.2)(2.7,34.8)(2.76,33.6)(2.8,34.2)(2.85,32.3)(2.8,31.7)(2.89,29.8)(2.93,28.6)(2.93,27.3)(2.95,23.5)(3.03,20.7)(2.95,17.5)(3.05,31.7)(3.14,33.9)(3.2,31.8)(3.16,30.3)(3.01,10.3)(3.01,8.7)(17.21,39.4)(17.27,38.4)(19.87,38.9)(19.91,37.7)(19.96,37.0)(20.16,39.9)(20.27,38.6)(20.29,35.3)(20.29,33.5)(20.31,31.2)(20.35,29.8)(20.35,28.6)(20.35,27.6)(20.39,25.7)(20.41,24.1)(20.45,22.9)(20.49,22.0)(20.49,21.0)(20.51,20.1)(20.56,21.6)(20.6,22.9)(20.64,24.1)(20.64,25.7)(20.68,26.7)(20.74,28.6)(20.74,30.1)(20.74,32.0)(20.8,33.5)(20.83,34.8)(20.87,36.7)(20.89,37.7)(20.93,38.7)(20.97,39.7)(20.68,33.9)(21.45,39.2)(21.51,38.0)(21.57,37.0)(21.6,35.8)(21.66,37.4)(21.7,34.8)(21.74,33.3)(21.8,31.7)(21.7,29.5)(21.76,27.9)(21.86,27.3)(21.82,36.7)(21.89,34.8)(21.93,33.9)(21.99,31.7)(21.93,29.8)(21.99,27.9)(22.05,25.1)(22.07,22.9)(22.11,20.4)(22.15,18.8)(22.18,17.5)(22.24,16.0)(22.28,14.7)(22.34,13.8)(22.38,11.9)(22.41,11.3)(22.45,8.7)(22.47,6.5)(22.41,4.0)(22.53,16.3)(22.57,17.9)(22.57,19.1)(22.61,21.3)(22.65,23.2)(22.63,25.1)(22.67,27.9)(22.76,29.8)(22.72,31.7)(22.82,27.3)(22.86,26.3)(22.92,25.4)(22.96,24.3)(23.0,29.8)(23.06,33.3)(23.06,34.8)(23.09,37.4)(23.09,39.2)(23.15,36.7)(23.15,31.4)(23.19,29.7)(23.23,27.9)(23.26,24.5)(23.3,22.3)(23.34,21.3)(23.38,20.1)(23.44,18.5)(23.5,17.5)(23.53,23.0)(23.59,19.7)(23.63,27.3)(23.69,29.2)(23.73,30.8)(23.76,25.7)(23.82,23.0)(23.82,16.6)(23.88,14.7)(23.88,12.8)(23.88,12.0)(23.92,19.7)(23.96,21.0)(24.01,28.2)(23.98,25.7)(23.92,18.2)(24.01,23.0)};
\addlegendentry{Speed /10}
\end{axis}
\fill[white] (78,-4441) rectangle (425,-4447.5);
\node[font=\fz{18.5}] at (251,-4422) {Wokingham,~ 18 July 2014};
\node[font=\fz{14}] at (564,-4411) {Wind speed, 10 min mean / max gust};
\node[font=\fz{14}] at (564,-4430) {Speeds below 4 kt shown at x10 scale};
\node[ylab] at (32,-4644) {Speed (knots)};
\node[xlab] at (511,-4895) {Time (GMT)};
\end{tikzpicture}
\end{document}
